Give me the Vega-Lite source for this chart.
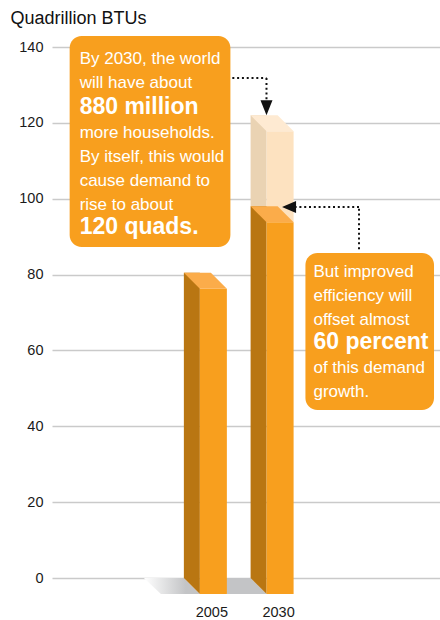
{
  "$schema": "https://vega.github.io/schema/vega-lite/v6.json",
  "width": 388,
  "height": 531,
  "autosize": {"type": "none"},
  "padding": {"left": 52, "top": 47, "right": 0, "bottom": 42},
  "background": "white",
  "config": {"view": {"stroke": null}, "font": "Liberation Sans"},
  "datasets": {
    "bars": [{"year": 2005, "quads": 80.5}, {"year": 2030, "quads": 98}],
    "ghost": [{"year": 2030, "quads": 122, "from": 98}]
  },
  "layer": [
    {
      "data": {"name": "bars"},
      "transform": [{"filter": "datum.year == 2005"}],
      "mark": {"type": "point", "shape": "M-69.5,0 L-29.5,0 L-13.5,16 L-52.5,16 Z", "size": 4, "filled": true, "opacity": 1, "strokeWidth": 0,
               "fill": {"gradient": "linear", "x1": 0, "y1": 0, "x2": 1, "y2": 0, "stops": [{"offset": 0, "color": "#ffffff"}, {"offset": 0.75, "color": "#c3c4c6"}]}},
      "encoding": {
        "x": {
          "field": "year", "type": "quantitative",
          "scale": {"domain": [1946.42, 2088.03], "nice": false, "zero": false},
          "axis": {"values": [2005, 2030], "format": "d", "title": null, "grid": false, "domain": false, "ticks": false,
                   "labelFontSize": 14.5, "labelColor": "#1a1a1a", "labelBaseline": "alphabetic", "labelPadding": 38, "labelOffset": -2, "labelFont": "Liberation Sans"}
        },
        "y": {
          "datum": 0, "type": "quantitative",
          "scale": {"domain": [0, 140], "nice": false},
          "axis": {"values": [0, 20, 40, 60, 80, 100, 120, 140], "grid": true, "gridColor": "#cacaca", "gridWidth": 1.3,
                   "domain": false, "ticks": false, "labelPadding": 9, "labelFontSize": 14.5, "labelColor": "#1a1a1a", "labelFont": "Liberation Sans",
                   "title": "Quadrillion BTUs", "titleAngle": 0, "titleAlign": "left", "titleBaseline": "alphabetic",
                   "titleX": -42, "titleY": -24, "titleFontSize": 18, "titleFontWeight": "normal", "titleColor": "#111111", "titleFont": "Liberation Sans"}
        }
      }
    },
    {
      "data": {"name": "bars"},
      "transform": [{"filter": "datum.year == 2030"}],
      "mark": {"type": "point", "shape": "M-69.5,0 L-29.5,0 L-13.5,16 L-53,16 Z", "size": 4, "filled": true, "opacity": 1, "strokeWidth": 0, "fill": "#c3c4c6"},
      "encoding": {"x": {"field": "year", "type": "quantitative"}, "y": {"datum": 0, "type": "quantitative"}}
    },
    {
      "data": {"name": "ghost"},
      "mark": {"type": "bar", "width": 16, "xOffset": -21.5, "fill": "#ead3b3"},
      "encoding": {"x": {"field": "year", "type": "quantitative"}, "y": {"field": "quads", "type": "quantitative"}, "y2": {"field": "from"}}
    },
    {
      "data": {"name": "ghost"},
      "mark": {"type": "bar", "width": 27, "yOffset": 16, "y2Offset": 16, "fill": "#fde2c0"},
      "encoding": {"x": {"field": "year", "type": "quantitative"}, "y": {"field": "quads", "type": "quantitative"}, "y2": {"field": "from"}}
    },
    {
      "data": {"name": "ghost"},
      "mark": {"type": "point", "shape": "M-29.5,0 L-2.5,0 L13.5,16 L-13.5,16 Z", "size": 4, "filled": true, "opacity": 1, "strokeWidth": 0, "fill": "#feead2"},
      "encoding": {"x": {"field": "year", "type": "quantitative"}, "y": {"field": "quads", "type": "quantitative"}}
    },
    {
      "data": {"name": "bars"},
      "mark": {"type": "bar", "width": 16, "xOffset": -21.5, "fill": "#b97612"},
      "encoding": {"x": {"field": "year", "type": "quantitative"}, "y": {"field": "quads", "type": "quantitative"}, "y2": {"datum": 0}}
    },
    {
      "data": {"name": "bars"},
      "mark": {"type": "point", "shape": "M-29.5,0 L-13.5,0 L-13.5,16 Z", "size": 4, "filled": true, "opacity": 1, "strokeWidth": 0, "fill": "#b97612"},
      "encoding": {"x": {"field": "year", "type": "quantitative"}, "y": {"datum": 0, "type": "quantitative"}}
    },
    {
      "data": {"name": "bars"},
      "mark": {"type": "bar", "width": 27, "yOffset": 16, "y2Offset": 16, "fill": "#f89f1e"},
      "encoding": {"x": {"field": "year", "type": "quantitative"}, "y": {"field": "quads", "type": "quantitative"}, "y2": {"datum": 0}}
    },
    {
      "data": {"name": "bars"},
      "mark": {"type": "point", "shape": "M-29.5,0 L-2.5,0 L13.5,16 L-13.5,16 Z", "size": 4, "filled": true, "opacity": 1, "strokeWidth": 0, "fill": "#fbac4a"},
      "encoding": {"x": {"field": "year", "type": "quantitative"}, "y": {"field": "quads", "type": "quantitative"}}
    },
    {
      "data": {"values": [{"box": "households"}]},
      "mark": {"type": "rect", "fill": "#f89f1e", "cornerRadius": 12},
      "encoding": {
        "x": {"datum": 1951.16, "type": "quantitative"}, "x2": {"datum": 2011.38},
        "y": {"datum": 142.9, "type": "quantitative"}, "y2": {"datum": 87.27}
      }
    },
    {
      "data": {"values": [{"box": "efficiency"}]},
      "mark": {"type": "rect", "fill": "#f89f1e", "cornerRadius": 12},
      "encoding": {
        "x": {"datum": 2039.49, "type": "quantitative"}, "x2": {"datum": 2087.66},
        "y": {"datum": 85.69, "type": "quantitative"}, "y2": {"datum": 44.29}
      }
    },
    {
      "data": {"values": [{"box": "households"}]},
      "mark": {"type": "text", "align": "left", "baseline": "alphabetic", "dx": 10, "dy": 28, "lineHeight": 24.3,
               "font": "Liberation Sans", "fontSize": 17, "fill": "white",
               "text": ["By 2030, the world", "will have about"]},
      "encoding": {"x": {"datum": 1951.16, "type": "quantitative"}, "y": {"datum": 142.9, "type": "quantitative"}}
    },
    {
      "data": {"values": [{"box": "households"}]},
      "mark": {"type": "text", "align": "left", "baseline": "alphabetic", "dx": 10, "dy": 101.5, "lineHeight": 24.3,
               "font": "Liberation Sans", "fontSize": 17, "fill": "white",
               "text": ["more households.", "By itself, this would", "cause demand to", "rise to about"]},
      "encoding": {"x": {"datum": 1951.16, "type": "quantitative"}, "y": {"datum": 142.9, "type": "quantitative"}}
    },
    {
      "data": {"values": [{"box": "households"}]},
      "mark": {"type": "text", "align": "left", "baseline": "alphabetic", "dx": 10, "dy": 78,
               "font": "Liberation Sans", "fontWeight": "bold", "fontSize": 23, "fill": "white", "text": "880 million"},
      "encoding": {"x": {"datum": 1951.16, "type": "quantitative"}, "y": {"datum": 142.9, "type": "quantitative"}}
    },
    {
      "data": {"values": [{"box": "households"}]},
      "mark": {"type": "text", "align": "left", "baseline": "alphabetic", "dx": 10, "dy": 198,
               "font": "Liberation Sans", "fontWeight": "bold", "fontSize": 23, "fill": "white", "text": "120 quads."},
      "encoding": {"x": {"datum": 1951.16, "type": "quantitative"}, "y": {"datum": 142.9, "type": "quantitative"}}
    },
    {
      "data": {"values": [{"box": "efficiency"}]},
      "mark": {"type": "text", "align": "left", "baseline": "alphabetic", "dx": 8, "dy": 24, "lineHeight": 24,
               "font": "Liberation Sans", "fontSize": 17, "fill": "white",
               "text": ["But improved", "efficiency will", "offset almost"]},
      "encoding": {"x": {"datum": 2039.49, "type": "quantitative"}, "y": {"datum": 85.69, "type": "quantitative"}}
    },
    {
      "data": {"values": [{"box": "efficiency"}]},
      "mark": {"type": "text", "align": "left", "baseline": "alphabetic", "dx": 8, "dy": 120, "lineHeight": 24,
               "font": "Liberation Sans", "fontSize": 17, "fill": "white",
               "text": ["of this demand", "growth."]},
      "encoding": {"x": {"datum": 2039.49, "type": "quantitative"}, "y": {"datum": 85.69, "type": "quantitative"}}
    },
    {
      "data": {"values": [{"box": "efficiency"}]},
      "mark": {"type": "text", "align": "left", "baseline": "alphabetic", "dx": 8, "dy": 96,
               "font": "Liberation Sans", "fontWeight": "bold", "fontSize": 23, "fill": "white", "text": "60 percent"},
      "encoding": {"x": {"datum": 2039.49, "type": "quantitative"}, "y": {"datum": 85.69, "type": "quantitative"}}
    },
    {
      "data": {"values": [{"arrow": "households"}]},
      "mark": {"type": "rule", "stroke": "#111111", "strokeWidth": 2, "strokeDash": [2, 2.8]},
      "encoding": {"x": {"datum": 2012.1, "type": "quantitative"}, "x2": {"datum": 2024.9}, "y": {"datum": 131.8, "type": "quantitative"}}
    },
    {
      "data": {"values": [{"arrow": "households"}]},
      "mark": {"type": "rule", "stroke": "#111111", "strokeWidth": 2, "strokeDash": [2, 2.8]},
      "encoding": {"x": {"datum": 2024.9, "type": "quantitative"}, "y": {"datum": 131.8, "type": "quantitative"}, "y2": {"datum": 125.7}}
    },
    {
      "data": {"values": [{"arrow": "households"}]},
      "mark": {"type": "point", "shape": "M-6,-15 L6,-15 L0,0 Z", "size": 4, "filled": true, "opacity": 1, "strokeWidth": 0, "fill": "#111111"},
      "encoding": {"x": {"datum": 2024.9, "type": "quantitative"}, "y": {"datum": 122, "type": "quantitative"}}
    },
    {
      "data": {"values": [{"arrow": "efficiency"}]},
      "mark": {"type": "rule", "stroke": "#111111", "strokeWidth": 2, "strokeDash": [2, 2.8]},
      "encoding": {"x": {"datum": 2059.56, "type": "quantitative"}, "y": {"datum": 86.7, "type": "quantitative"}, "y2": {"datum": 97.8}}
    },
    {
      "data": {"values": [{"arrow": "efficiency"}]},
      "mark": {"type": "rule", "stroke": "#111111", "strokeWidth": 2, "strokeDash": [2, 2.8]},
      "encoding": {"x": {"datum": 2059.56, "type": "quantitative"}, "x2": {"datum": 2035.5}, "y": {"datum": 97.8, "type": "quantitative"}}
    },
    {
      "data": {"values": [{"arrow": "efficiency"}]},
      "mark": {"type": "point", "shape": "M0,0 L14,-6 L14,6 Z", "size": 4, "filled": true, "opacity": 1, "strokeWidth": 0, "fill": "#111111"},
      "encoding": {"x": {"datum": 2030.73, "type": "quantitative"}, "y": {"datum": 97.8, "type": "quantitative"}}
    }
  ]
}
